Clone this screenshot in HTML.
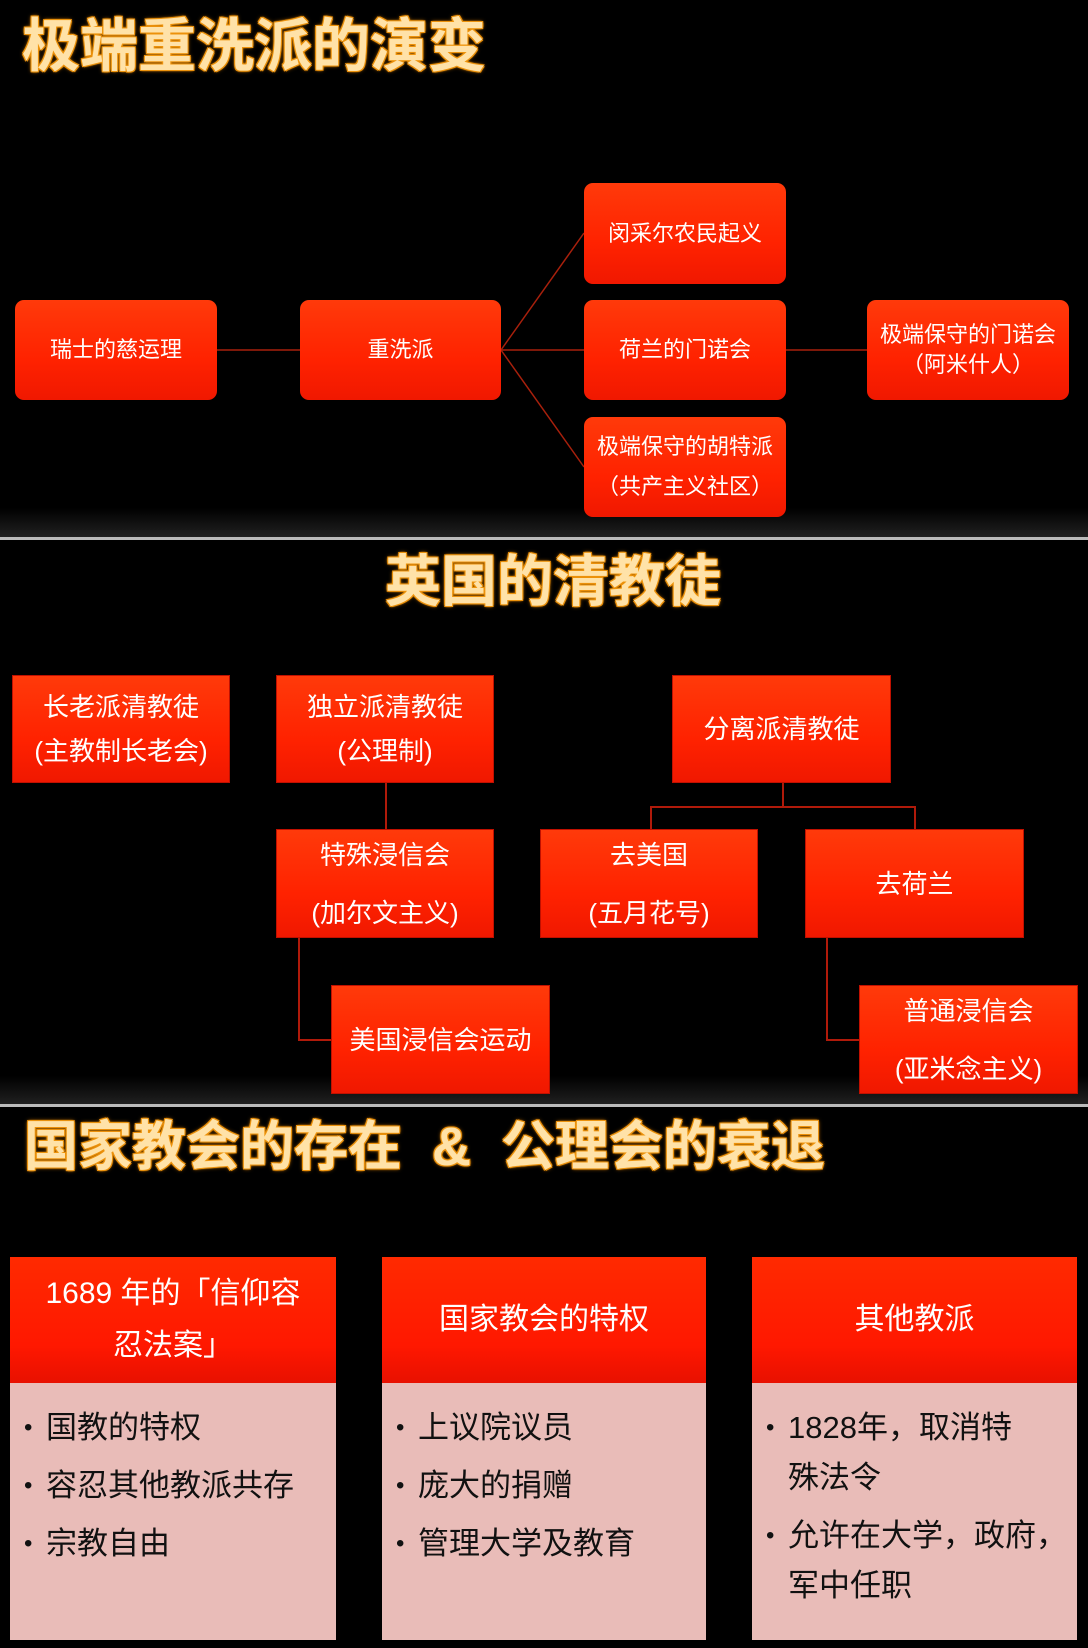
<!DOCTYPE html>
<html><head><meta charset="utf-8"><style>
*{margin:0;padding:0;box-sizing:border-box}
body{width:1088px;height:1648px;background:#000;position:relative;overflow:hidden;font-family:"Liberation Sans","Noto Sans CJK SC",sans-serif}
.t{position:absolute;font-weight:bold;color:#ffe2a8;white-space:nowrap;z-index:2;
text-shadow:0 0 2px #f29a10,0 0 2px #f29a10,0 0 4px #e08000,1px 1px 0 #e89010,-1px -1px 0 #e89010,1px -1px 0 #e89010,-1px 1px 0 #e89010}
.b{position:absolute;z-index:2;background:linear-gradient(#ff3a0a,#ff2200 60%,#f01800);color:#fff;display:flex;flex-direction:column;align-items:center;justify-content:center;text-align:center;white-space:nowrap}
.r{border-radius:9px;font-size:22px;line-height:38px}
.s{font-size:26px;line-height:50px;border:1px solid #c01000}
.l{position:absolute;background:#b01a0a}
.sep{position:absolute;left:0;width:1088px;height:3px;background:#bbb;z-index:3}
.fade{position:absolute;left:0;width:1088px;height:30px;background:linear-gradient(#000,#222);z-index:0}
.h{position:absolute;top:1257px;height:126px;background:linear-gradient(#ff2a00,#ff1800 70%,#e81000);color:#fff;font-size:30px;line-height:52px;display:flex;align-items:center;justify-content:center;text-align:center}
.bd{position:absolute;top:1383px;height:257px;background:#e9bcb8;color:#111;font-size:31px;padding-top:20px}
.bd p{position:relative;padding-left:36px;line-height:50px;margin-bottom:8px}
.bd p:before{content:"•";position:absolute;left:14px;font-size:24px}
</style></head><body>
<div class="fade" style="top:508px"></div>
<div class="fade" style="top:1076px"></div>
<div class="t" style="left:22px;top:14px;font-size:58px;line-height:66px">极端重洗派的演变</div>

<svg style="position:absolute;left:0;top:0;z-index:1" width="1088" height="540">
<g stroke="#a8200c" stroke-width="1.5" fill="none">
<line x1="217" y1="350" x2="300" y2="350"/>
<line x1="501" y1="350" x2="584" y2="350"/>
<line x1="501" y1="350" x2="584" y2="233"/>
<line x1="501" y1="350" x2="584" y2="467"/>
<line x1="786" y1="350" x2="867" y2="350"/>
</g></svg>
<div class="b r" style="left:15px;top:300px;width:202px;height:100px">瑞士的慈运理</div>
<div class="b r" style="left:300px;top:300px;width:201px;height:100px">重洗派</div>
<div class="b r" style="left:584px;top:183px;width:202px;height:101px">闵采尔农民起义</div>
<div class="b r" style="left:584px;top:300px;width:202px;height:100px">荷兰的门诺会</div>
<div class="b r" style="left:584px;top:417px;width:202px;height:100px;line-height:40px">极端保守的胡特派<br>（共产主义社区）</div>
<div class="b r" style="left:867px;top:300px;width:202px;height:100px;line-height:30px">极端保守的门诺会<br>（阿米什人）</div>
<div class="sep" style="top:537px"></div>

<div class="t" style="left:385px;top:552px;font-size:56px;line-height:60px">英国的清教徒</div>
<div class="l" style="left:385px;top:783px;width:1.5px;height:46px"></div>
<div class="l" style="left:782px;top:783px;width:1.5px;height:23px"></div>
<div class="l" style="left:650px;top:806px;width:264px;height:1.5px"></div>
<div class="l" style="left:650px;top:806px;width:1.5px;height:23px"></div>
<div class="l" style="left:914px;top:806px;width:1.5px;height:23px"></div>
<div class="l" style="left:298px;top:938px;width:1.5px;height:101px"></div>
<div class="l" style="left:298px;top:1039px;width:33px;height:1.5px"></div>
<div class="l" style="left:826px;top:938px;width:1.5px;height:101px"></div>
<div class="l" style="left:826px;top:1039px;width:33px;height:1.5px"></div>
<div class="b s" style="left:12px;top:675px;width:218px;height:108px;line-height:44px">长老派清教徒<br>(主教制长老会)</div>
<div class="b s" style="left:276px;top:675px;width:218px;height:108px;line-height:44px">独立派清教徒<br>(公理制)</div>
<div class="b s" style="left:672px;top:675px;width:219px;height:108px">分离派清教徒</div>
<div class="b s" style="left:276px;top:829px;width:218px;height:109px;line-height:58px">特殊浸信会<br>(加尔文主义)</div>
<div class="b s" style="left:540px;top:829px;width:218px;height:109px;line-height:58px">去美国<br>(五月花号)</div>
<div class="b s" style="left:805px;top:829px;width:219px;height:109px">去荷兰</div>
<div class="b s" style="left:331px;top:985px;width:219px;height:109px">美国浸信会运动</div>
<div class="b s" style="left:859px;top:985px;width:219px;height:109px;line-height:58px">普通浸信会<br>(亚米念主义)</div>
<div class="sep" style="top:1104px"></div>

<div class="t" style="left:24px;top:1116px;font-size:54px;line-height:62px">国家教会的存在&nbsp;&nbsp;&amp;&nbsp;&nbsp;公理会的衰退</div>
<div class="h" style="left:10px;width:326px">1689 年的「信仰容<br>忍法案」</div>
<div class="h" style="left:382px;width:324px">国家教会的特权</div>
<div class="h" style="left:752px;width:325px">其他教派</div>
<div class="bd" style="left:10px;width:326px"><p>国教的特权</p><p>容忍其他教派共存</p><p>宗教自由</p></div>
<div class="bd" style="left:382px;width:324px"><p>上议院议员</p><p>庞大的捐赠</p><p>管理大学及教育</p></div>
<div class="bd" style="left:752px;width:325px"><p>1828年，取消特<br>殊法令</p><p>允许在大学，政府，<br>军中任职</p></div>
</body></html>
